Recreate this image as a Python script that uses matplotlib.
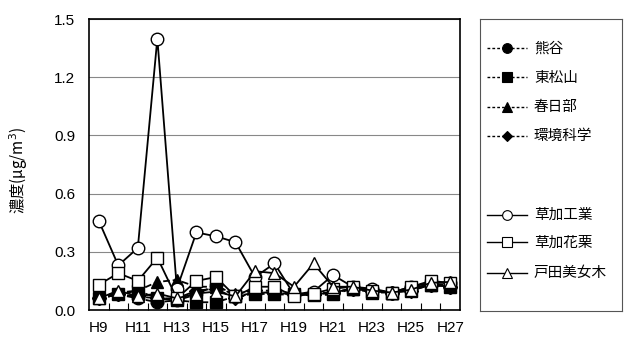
import matplotlib
matplotlib.use("Agg")
import matplotlib.pyplot as plt
from matplotlib.lines import Line2D

plt.rcParams['font.family'] = ['Liberation Sans', 'Noto Sans CJK JP', 'DejaVu Sans']

years = ['H9', 'H10', 'H11', 'H12', 'H13', 'H14', 'H15', 'H16', 'H17', 'H18',
         'H19', 'H20', 'H21', 'H22', 'H23', 'H24', 'H25', 'H26', 'H27']

kumagaya = [0.06, 0.08, 0.06, 0.04, 0.05, 0.08, 0.13, 0.07, 0.09, 0.09,
            0.08, 0.08, 0.09, 0.11, 0.10, 0.09, 0.11, 0.13, 0.12]
higashimatsuyama = [0.06, 0.08, 0.10, 0.06, 0.05, 0.04, 0.04, 0.07, 0.085, 0.08,
                    0.08, 0.075, 0.08, 0.11, 0.09, 0.09, 0.10, 0.13, 0.12]
kasukabe = [0.065, 0.09, 0.10, 0.145, 0.155, 0.12, 0.12, 0.085, 0.10, 0.10,
            0.085, 0.085, 0.09, 0.11, 0.10, 0.09, 0.11, 0.13, 0.13]
kankyo = [0.06, 0.08, 0.07, 0.06, 0.06, 0.10, 0.11, 0.06, 0.09, 0.09,
          0.08, 0.08, 0.09, 0.11, 0.10, 0.09, 0.10, 0.13, 0.12]
soka_kogyo = [0.46, 0.23, 0.32, 1.40, 0.11, 0.40, 0.38, 0.35, 0.17, 0.24,
              0.08, 0.095, 0.18, 0.12, 0.11, 0.09, 0.12, 0.14, 0.14]
soka_kakuri = [0.13, 0.19, 0.15, 0.27, 0.06, 0.15, 0.17, 0.07, 0.12, 0.12,
               0.07, 0.085, 0.11, 0.12, 0.10, 0.09, 0.12, 0.15, 0.14]
toda = [0.06, 0.10, 0.07, 0.085, 0.06, 0.085, 0.095, 0.07, 0.20, 0.19,
        0.12, 0.24, 0.12, 0.12, 0.10, 0.09, 0.105, 0.14, 0.145]

series = [
    ('熊谷', kumagaya, 'o', 'black', '--'),
    ('東松山', higashimatsuyama, 's', 'black', '--'),
    ('春日部', kasukabe, '^', 'black', '--'),
    ('環境科学', kankyo, 'D', 'black', '--'),
    ('草加工業', soka_kogyo, 'o', 'white', '-'),
    ('草加花栗', soka_kakuri, 's', 'white', '-'),
    ('戸田美女木', toda, '^', 'white', '-'),
]

fig = plt.figure(figsize=(6.25, 3.41), dpi=100)
ax = fig.add_axes([0.1424, 0.0909, 0.5936, 0.853])

x = list(range(len(years)))
for name, vals, mk, face, ls in series:
    ms = 7 if mk == 'D' else 9
    ax.plot(x, vals, linestyle=ls, color='black', linewidth=1.3,
            marker=mk, markersize=ms, markerfacecolor=face,
            markeredgecolor='black', markeredgewidth=1.0)

ax.set_xlim(-0.5, len(years) - 0.5)
ax.set_ylim(0, 1.5)
ax.set_yticks([0.0, 0.3, 0.6, 0.9, 1.2, 1.5])
ax.set_yticklabels(['0.0', '0.3', '0.6', '0.9', '1.2', '1.5'])
ax.yaxis.grid(True, color='#888888', linewidth=0.8)
ax.set_axisbelow(True)

ax.set_xticks(x[::2])
ax.set_xticklabels(years[::2])
ax.set_xticks([i + 0.5 for i in x[:-1]], minor=True)
ax.tick_params(axis='x', which='major', length=0, pad=8, labelsize=11)
ax.tick_params(axis='x', which='minor', direction='in', length=5, width=0.8)
ax.tick_params(axis='y', length=0, pad=10, labelsize=11)
for sp in ax.spines.values():
    sp.set_linewidth(1.2)

fig.text(0.03, 0.50, '濃度(μg/m$^3$)', rotation=90, ha='center', va='center',
         fontsize=11, family=['Noto Sans CJK JP', 'DejaVu Sans'])

# hand-built legend panel on the right
lg = fig.add_axes([0.768, 0.088, 0.227, 0.856])
lg.set_xlim(0, 1)
lg.set_ylim(0, 1)
lg.set_xticks([])
lg.set_yticks([])
for sp in lg.spines.values():
    sp.set_linewidth(0.8)
    sp.set_color('#555555')

rows = [0.90, 0.80, 0.70, 0.60, 0.33, 0.235, 0.13]
for (name, vals, mk, face, ls), yy in zip(series, rows):
    ms = 5.5 if mk == 'D' else 7
    lg.add_line(Line2D([0.05, 0.33], [yy, yy], linestyle=ls, color='black',
                       linewidth=1.0, dashes=(2, 1.5) if ls == '--' else (None, None)))
    lg.plot([0.19], [yy], marker=mk, markersize=ms, markerfacecolor=face,
            markeredgecolor='black', markeredgewidth=0.8, linestyle='none')
    lg.text(0.38, yy, name, va='center', ha='left', fontsize=10.5,
            family=['Noto Sans CJK JP', 'DejaVu Sans'])

fig.savefig('out.png', dpi=100)
